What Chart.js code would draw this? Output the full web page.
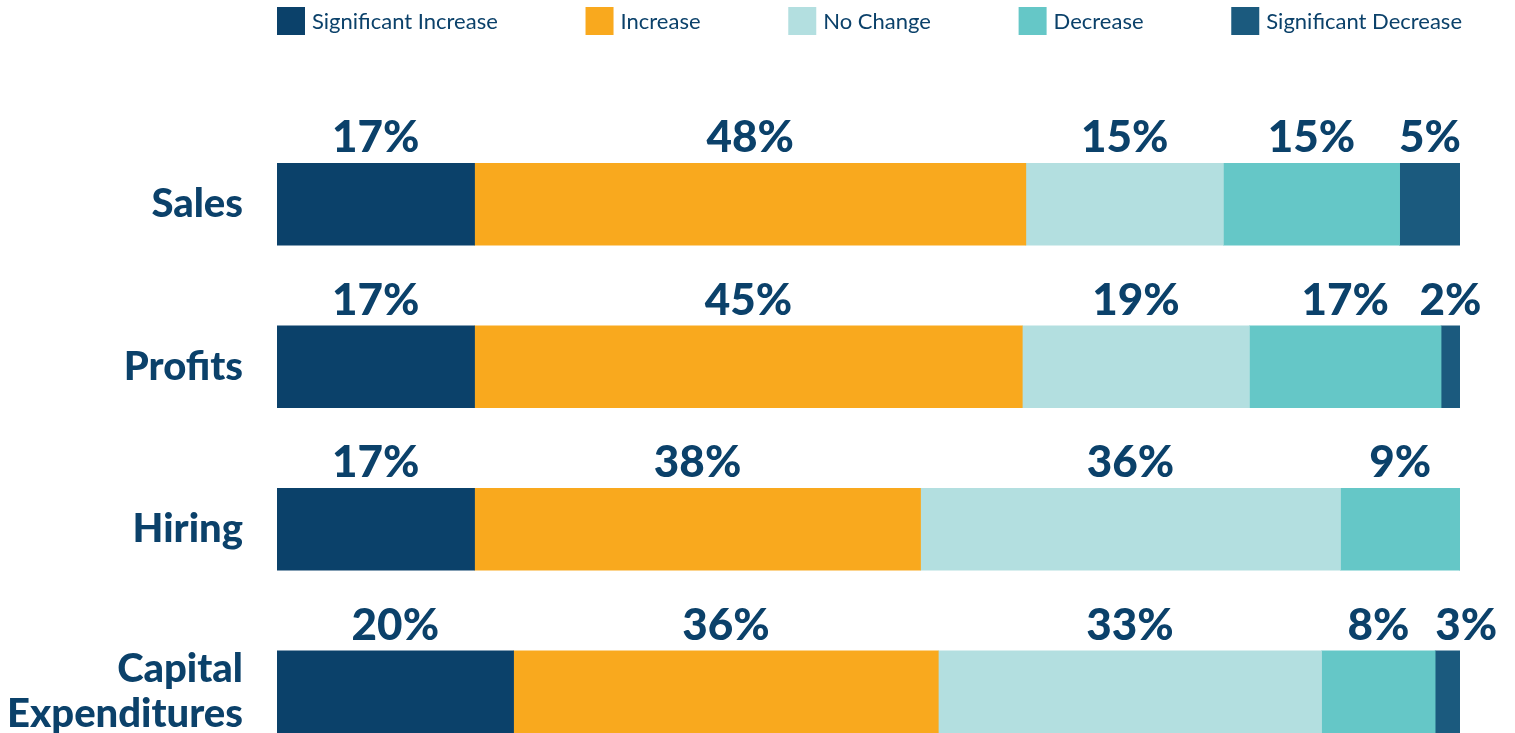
<!DOCTYPE html>
<html>
<head>
<meta charset="utf-8">
<script src="https://cdn.jsdelivr.net/npm/chart.js@4/dist/chart.umd.min.js"></script>
<style>
  html, body { margin: 0; padding: 0; background: #ffffff; overflow: hidden; }
  #c { display: block; }
</style>
</head>
<body>
<canvas id="c" width="1515" height="790"></canvas>
<script>
// ---- data (shares; labels as printed) ----
const categories = ['Sales', 'Profits', 'Hiring', ['Capital', 'Expenditures']];
const seriesNames = ['Significant Increase', 'Increase', 'No Change', 'Decrease', 'Significant Decrease'];

const sigIncrease = [16.7, 16.7, 16.7, 20.0];
const increase    = [46.6, 46.3, 37.7, 35.9];
const noChange    = [16.7, 19.2, 35.5, 32.4];
const decrease    = [14.9, 16.2, 10.1, 9.6];
const sigDecrease = [5.1, 1.6, 0, 2.1];

const sigIncreaseLabels = ['17%', '17%', '17%', '20%'];
const increaseLabels    = ['48%', '45%', '38%', '36%'];
const noChangeLabels    = ['15%', '19%', '36%', '33%'];
const decreaseLabels    = ['15%', '17%', '9%', '8%'];
const sigDecreaseLabels = ['5%', '2%', '', '3%'];

const colors = ['#0B416A', '#F9A91E', '#B3DFE0', '#65C7C7', '#1B5A7E'];
const textColor = '#0B416A';

const seriesValues = [sigIncrease, increase, noChange, decrease, sigDecrease];
const seriesLabels = [sigIncreaseLabels, increaseLabels, noChangeLabels, decreaseLabels, sigDecreaseLabels];

// ---- plugins ----
const segmentLabels = {
  id: 'segmentLabels',
  afterDatasetsDraw(chart) {
    const ctx = chart.ctx;
    ctx.save();
    ctx.font = '900 44px Lato, "DejaVu Sans", sans-serif';
    ctx.fillStyle = textColor;
    ctx.textAlign = 'left';
    ctx.textBaseline = 'alphabetic';
    const nCat = categories.length;
    for (let i = 0; i < nCat; i++) {
      let lastRight = -Infinity;
      chart.data.datasets.forEach((ds, di) => {
        const txt = seriesLabels[di][i];
        if (!txt || !ds.data[i]) return;
        const el = chart.getDatasetMeta(di).data[i];
        const cx = (el.x + el.base) / 2;
        const top = el.y - el.height / 2;
        const w = ctx.measureText(txt).width;
        let left = cx - w / 2;
        if (left < lastRight + 26) left = lastRight + 26;
        ctx.fillText(txt, left, top - 11);
        lastRight = left + w;
      });
    }
    ctx.restore();
  }
};

const topLegend = {
  id: 'topLegend',
  afterDraw(chart) {
    const ctx = chart.ctx;
    const area = chart.chartArea;
    ctx.save();
    ctx.font = '400 22px Lato, "DejaVu Sans", sans-serif';
    const box = 28, gapText = 7;
    const widths = seriesNames.map(t => box + gapText + ctx.measureText(t).width);
    const total = widths.reduce((a, b) => a + b, 0);
    const gap = (area.right + 2 - area.left - total) / (seriesNames.length - 1);
    let x = area.left;
    const y = 7;
    seriesNames.forEach((name, i) => {
      ctx.fillStyle = colors[i];
      ctx.fillRect(x, y, box, box);
      ctx.fillStyle = textColor;
      ctx.textBaseline = 'middle';
      ctx.textAlign = 'left';
      ctx.fillText(name, x + box + gapText, y + box / 2 + 1);
      x += widths[i] + gap;
    });
    ctx.restore();
  }
};

function build() {
  new Chart(document.getElementById('c'), {
    type: 'bar',
    data: {
      labels: categories,
      datasets: seriesNames.map((name, i) => ({
        label: name,
        data: seriesValues[i],
        backgroundColor: colors[i],
        borderWidth: 0,
        barThickness: 82
      }))
    },
    options: {
      indexAxis: 'y',
      responsive: false,
      devicePixelRatio: 1,
      animation: false,
      layout: { padding: { top: 123, bottom: 17, left: 0, right: 55 } },
      plugins: {
        legend: { display: false },
        tooltip: { enabled: false }
      },
      scales: {
        x: {
          stacked: true,
          min: 0,
          max: 100,
          display: false
        },
        y: {
          stacked: true,
          grid: { display: false, drawTicks: false },
          border: { display: false },
          afterFit(scale) {
            scale.width = 277;
            scale.paddingTop = 0;
            scale.paddingBottom = 0;
          },
          ticks: {
            padding: 34,
            color: textColor,
            font: { family: 'Lato, "DejaVu Sans", sans-serif', weight: '900', size: 40, lineHeight: 1.13 }
          }
        }
      }
    },
    plugins: [segmentLabels, topLegend]
  });
}

const fontLoads = [
  document.fonts.load('900 44px Lato'),
  document.fonts.load('400 22px Lato')
];
Promise.all(fontLoads).then(build, build);
</script>
</body>
</html>
